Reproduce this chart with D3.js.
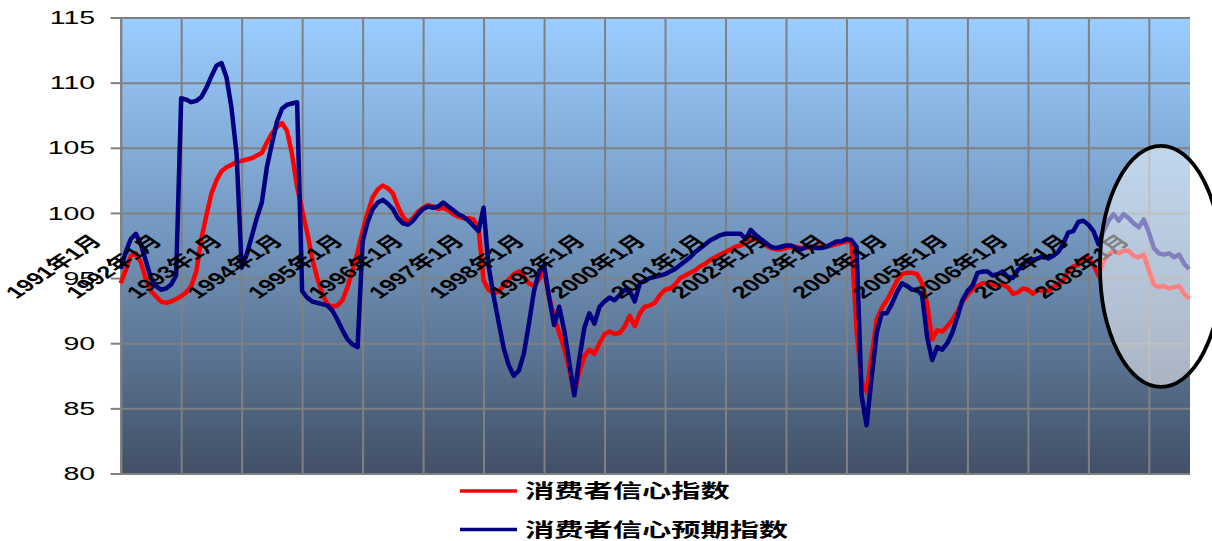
<!DOCTYPE html>
<html>
<head>
<meta charset="utf-8">
<script src="https://cdn.jsdelivr.net/npm/d3@7/dist/d3.min.js"></script>
<style>
  body { margin: 0; background: #fff; }
  svg { display: block; }
</style>
</head>
<body>
<svg></svg>
<script>
const width = 1212
const height = 541
const marge = {top: 17.5, bottom: 67.5, left: 120.7, right: 22}

// 横轴标签（每年1月）
const yearLabels = ["1991年1月","1992年1月","1993年1月","1994年1月","1995年1月","1996年1月",
  "1997年1月","1998年1月","1999年1月","2000年1月","2001年1月","2002年1月",
  "2003年1月","2004年1月","2005年1月","2006年1月","2007年1月","2008年1月"]

const yTicks = [80, 85, 90, 95, 100, 105, 110, 115]

const seriesNames = ["消费者信心指数", "消费者信心预期指数"]

// 消费者信心指数（月度，1991年1月起）
const confidence = [
  94.6, 95.6, 96.7, 96.9, 96.2, 94.9, 94.0, 93.6, 93.2, 93.1, 93.2, 93.4,
  93.6, 93.9, 94.4, 95.5, 98.0, 99.8, 101.5, 102.5, 103.2, 103.5, 103.7, 103.9,
  104.0, 104.1, 104.2, 104.4, 104.6, 105.4, 106.1, 106.6, 106.9, 106.3, 104.5, 102.0,
  100.2, 98.5, 96.5, 95.0, 93.8, 93.0, 92.8, 92.9, 93.3, 94.3, 95.6, 97.0,
  98.6, 100.0, 101.2, 101.8, 102.1, 101.9, 101.5, 100.5, 99.7, 99.3, 99.6, 100.1,
  100.4, 100.6, 100.5, 100.3, 100.4, 100.2, 99.9, 99.7, 99.6, 99.6, 99.5, 98.8,
  94.8, 94.1, 93.8, 94.0, 94.4, 94.9, 95.3, 95.5, 95.1, 94.6, 94.4, 94.9,
  95.6, 93.6, 92.0, 90.8, 89.6, 88.0, 86.1, 87.8, 89.0, 89.5, 89.2, 90.0,
  90.7, 90.9, 90.7, 90.8, 91.3, 92.1, 91.3, 92.3, 92.8, 92.9, 93.1, 93.7,
  94.1, 94.2, 94.5, 95.0, 95.2, 95.4, 95.6, 95.9, 96.1, 96.4, 96.6, 96.8,
  97.0, 97.2, 97.4, 97.5, 97.7, 97.9, 98.0, 97.8, 97.5, 97.3, 97.2, 97.2,
  97.3, 97.4, 97.4, 97.3, 97.3, 97.4, 97.4, 97.4, 97.4, 97.5, 97.6, 97.7,
  97.8, 97.8, 91.0, 87.0, 86.3, 89.0, 91.8, 92.7, 93.3, 94.0, 94.8, 95.3,
  95.4, 95.4, 95.3, 94.6, 93.0, 90.3, 91.0, 90.9, 91.3, 91.8, 92.4, 93.2,
  93.7, 94.1, 94.4, 94.6, 94.6, 94.5, 94.4, 94.5, 94.3, 93.8, 93.9, 94.2,
  94.1, 93.8, 94.1, 94.0, 94.0, 94.3, 94.5, 94.8, 95.6, 95.9, 96.0, 96.5,
  96.6, 96.0, 95.2, 96.3, 96.8, 97.1, 96.9, 97.1, 97.1, 96.7, 96.6, 96.8,
  95.6, 94.5, 94.3, 94.4, 94.2, 94.3, 94.4, 93.8, 93.4
]

// 消费者信心预期指数
const expectation = [
  95.7, 97.0, 98.0, 98.4, 97.6, 96.3, 95.0, 94.4, 94.1, 94.2, 94.5, 95.2,
  108.8, 108.7, 108.5, 108.6, 108.9, 109.6, 110.5, 111.3, 111.5, 110.4, 108.0, 104.5,
  95.8, 96.8, 98.2, 99.6, 100.8, 103.5, 105.3, 107.0, 108.0, 108.3, 108.4, 108.5,
  94.0, 93.5, 93.2, 93.1, 93.0, 92.9, 92.5, 91.8, 91.0, 90.3, 89.9, 89.7,
  97.8, 99.3, 100.3, 100.8, 101.0, 100.7, 100.3, 99.6, 99.2, 99.1, 99.4, 99.9,
  100.3, 100.5, 100.4, 100.5, 100.8, 100.5, 100.2, 99.9, 99.7, 99.4, 99.0, 98.6,
  100.4, 95.9, 93.6, 91.6, 89.6, 88.3, 87.5, 87.9, 89.2, 91.5, 94.0, 95.5,
  96.0, 93.5, 91.4, 92.8, 91.0, 88.5, 86.0, 88.8, 91.2, 92.3, 91.5, 92.8,
  93.2, 93.5, 93.3, 93.7, 94.1, 94.0, 93.2, 94.6, 94.8, 95.0, 95.1, 95.2,
  95.3, 95.5, 95.7, 96.0, 96.3, 96.6, 97.0, 97.3, 97.6, 97.9, 98.1, 98.3,
  98.4, 98.4, 98.4, 98.4, 98.0, 98.7, 98.3, 98.0, 97.7, 97.4, 97.3, 97.4,
  97.5, 97.5, 97.3, 97.2, 97.4, 97.4, 97.3, 97.3, 97.4, 97.6, 97.8, 97.8,
  98.0, 97.9, 97.4, 86.0, 83.7, 87.4, 90.8, 92.3, 92.3, 93.0, 93.9, 94.6,
  94.4, 94.1, 94.1, 93.7, 90.5, 88.7, 89.7, 89.5, 90.0, 90.8, 92.0, 93.3,
  94.0, 94.4, 95.4, 95.5, 95.5, 95.2, 95.3, 95.5, 95.1, 95.0, 95.6, 96.0,
  96.4, 96.4, 96.5, 96.7, 96.5, 96.7, 97.0, 97.6, 98.5, 98.6, 99.3, 99.4,
  99.1, 98.6, 97.6, 98.6, 99.4, 99.9, 99.4, 99.9, 99.6, 99.2, 98.9, 99.5,
  98.5, 97.3, 96.9, 96.8, 96.9, 96.6, 96.8, 96.1, 95.7
]

const svg = d3.select('svg').attr('width', width).attr('height', height)

const plotW = width - marge.left - marge.right
const plotH = height - marge.top - marge.bottom

const x = d3.scaleLinear().domain([0, confidence.length - 1])
  .range([marge.left, marge.left + (confidence.length - 1) * 5.04])
const y = d3.scaleLinear().domain([80, 115]).range([marge.top + plotH, marge.top])

// 背景渐变
const grad = svg.append('defs').append('linearGradient')
  .attr('id', 'bg').attr('x1', 0).attr('y1', 0).attr('x2', 0).attr('y2', 1)
grad.append('stop').attr('offset', '0%').attr('stop-color', '#9bcdff')
grad.append('stop').attr('offset', '50%').attr('stop-color', '#7194bb')
grad.append('stop').attr('offset', '100%').attr('stop-color', '#425066')

svg.append('rect')
  .attr('x', marge.left).attr('y', marge.top)
  .attr('width', plotW).attr('height', plotH)
  .attr('fill', 'url(#bg)')

// 网格线
const gridColor = '#808080'
const yGrid = svg.append('g')
  .attr('transform', 'translate(' + marge.left + ',0)')
  .call(d3.axisLeft(y).tickValues(yTicks).tickSize(-plotW).tickFormat(''))
yGrid.select('.domain').remove()
yGrid.selectAll('line').attr('stroke', gridColor).attr('stroke-width', 2)

const monthTicks = yearLabels.map((d, i) => i * 12)
const xGrid = svg.append('g')
  .attr('transform', 'translate(0,' + marge.top + ')')
  .call(d3.axisBottom(x).tickValues(monthTicks).tickSize(plotH).tickFormat(''))
xGrid.select('.domain').remove()
xGrid.selectAll('line').attr('stroke', gridColor).attr('stroke-width', 2)

// 纵轴
const yAxis = svg.append('g')
  .attr('transform', 'translate(' + marge.left + ',0)')
  .call(d3.axisLeft(y).tickValues(yTicks).tickSize(10).tickPadding(0))
yAxis.select('.domain').attr('stroke', gridColor).attr('stroke-width', 2)
yAxis.selectAll('line').attr('stroke', gridColor).attr('stroke-width', 2)
yAxis.selectAll('text')
  .attr('x', -17)
  .attr('transform', 'scale(1.5,1)')
  .style('font-family', '"Liberation Sans", Arial, sans-serif')
  .style('font-size', '19px')
  .attr('fill', '#000')

// 折线
const line = d3.line().x((d, i) => x(i)).y(d => y(d))

svg.append('path').datum(confidence)
  .attr('fill', 'none').attr('stroke', '#ff0000').attr('stroke-width', 4.5)
  .attr('stroke-linejoin', 'round').attr('d', line)

svg.append('path').datum(expectation)
  .attr('fill', 'none').attr('stroke', '#000080').attr('stroke-width', 4.5)
  .attr('stroke-linejoin', 'round').attr('d', line)

// 横轴标签（斜排）
svg.append('g').selectAll('text').data(yearLabels).enter().append('text')
  .attr('transform', (d, i) => 'translate(' + (x(i * 12) - 18) + ',242) scale(1.5,1) rotate(-45)')
  .attr('text-anchor', 'end')
  .style('font-family', '"Liberation Sans", "Noto Sans CJK SC", sans-serif')
  .style('font-weight', 'bold')
  .style('font-size', '17px')
  .attr('fill', '#000')
  .text(d => d)

// 椭圆标注
svg.append('ellipse')
  .attr('cx', x(206.4)).attr('cy', y(95.9))
  .attr('rx', 61).attr('ry', 120.5)
  .attr('fill', '#fff').attr('fill-opacity', 0.5)
  .attr('stroke', '#000').attr('stroke-width', 3.8)

// 图例
const legend = svg.append('g')
const legendColors = ['#ff0000', '#000080']
seriesNames.forEach(function (name, i) {
  const ly = 491 + i * 38.5
  legend.append('line')
    .attr('x1', 460).attr('x2', 517).attr('y1', ly).attr('y2', ly)
    .attr('stroke', legendColors[i]).attr('stroke-width', 3.5)
  legend.append('text')
    .attr('transform', 'translate(525,' + (ly + 7) + ') scale(1.5,1)')
    .style('font-family', '"Noto Sans CJK SC", sans-serif')
    .style('font-weight', 'bold')
    .style('font-size', '19.5px')
    .attr('fill', '#000')
    .text(name)
})
</script>
</body>
</html>
